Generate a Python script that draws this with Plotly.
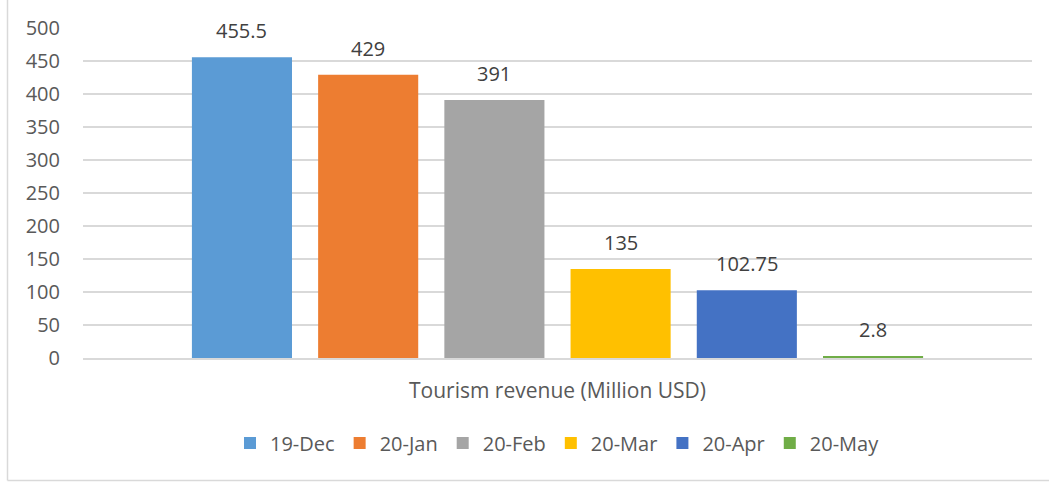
import plotly.graph_objects as go

categories = ["Tourism revenue (Million USD)"]
series_names = ["19-Dec", "20-Jan", "20-Feb", "20-Mar", "20-Apr", "20-May"]
series_values = [455.5, 429, 391, 135, 102.75, 2.8]
series_labels = ["455.5", "429", "391", "135", "102.75", "2.8"]
colors = ["#5B9BD5", "#ED7D31", "#A5A5A5", "#FFC000", "#4472C4", "#70AD47"]

W, H = 1049, 482
ML, MR, MT, MB = 83, 17, 28, 124
FONT = "Open Sans"
FS = 21
TXT = "#595959"

fig = go.Figure()
for name, val, col in zip(series_names, series_values, colors):
    fig.add_trace(go.Bar(name=name, x=categories, y=[val], marker_color=col,
                         marker_line_width=0))

bargap = 0.202
groupgap = 0.207
plot_w = W - ML - MR
plot_h = H - MT - MB
slot = plot_w * (1 - bargap) / len(series_names)
n = len(series_names)
annotations = []
for i, (val, lab) in enumerate(zip(series_values, series_labels)):
    annotations.append(dict(x=categories[0], y=val, xref="x", yref="y",
                            text=lab, showarrow=False, yanchor="bottom",
                            xshift=(i - (n - 1) / 2) * slot, yshift=11,
                            font=dict(family=FONT, size=FS - 1, color="#404040")))

bx = (7.5 - ML) / plot_w
by = -(MB - 1.5) / plot_h
fig.update_layout(
    width=W, height=H,
    margin=dict(l=ML, r=MR, t=MT, b=MB, autoexpand=False),
    barmode="group", bargap=bargap, bargroupgap=groupgap,
    plot_bgcolor="white", paper_bgcolor="white",
    font=dict(family=FONT, size=FS, color=TXT),
    showlegend=True,
    legend=dict(orientation="h", x=0.5, xanchor="center",
                y=-(443 - MT - plot_h) / plot_h, yanchor="middle",
                font=dict(family=FONT, size=FS - 1, color=TXT), itemwidth=30,
                traceorder="normal"),
    annotations=annotations,
    shapes=[
        dict(type="line", xref="paper", yref="paper",
             x0=bx, x1=bx, y0=1 + MT / plot_h, y1=by,
             line=dict(color="#D9D9D9", width=1.5)),
        dict(type="line", xref="paper", yref="paper",
             x0=bx, x1=(W - ML) / plot_w, y0=by, y1=by,
             line=dict(color="#D9D9D9", width=1.5)),
    ],
)
fig.update_xaxes(showgrid=False, showline=True, linecolor="#D9D9D9", linewidth=1.5,
                 ticks="", ticklabelstandoff=13,
                 tickfont=dict(family=FONT, size=FS, color=TXT))
fig.update_yaxes(range=[0, 500], dtick=50, showgrid=True, gridcolor="#D9D9D9",
                 gridwidth=1.5, zeroline=False, showline=False, ticks="",
                 ticklabelstandoff=22,
                 tickfont=dict(family=FONT, size=FS - 1, color=TXT))

fig.write_html("out.html", config={"displayModeBar": False},
               post_script="document.body.style.margin='0';document.body.style.overflow='hidden';")
